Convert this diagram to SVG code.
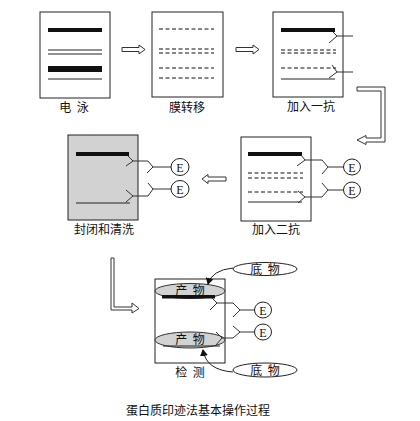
<svg xmlns="http://www.w3.org/2000/svg" width="420" height="421" viewBox="0 0 420 421">
<style>
.box{fill:#fff;stroke:#222;stroke-width:1}
.gray{fill:#d2d2d2;stroke:#222;stroke-width:1}
.thin{stroke:#222;stroke-width:1;fill:none}
.dash{stroke:#111;stroke-width:1.1;stroke-dasharray:4,2.5;fill:none}
.ab{stroke:#333;stroke-width:1;fill:none}
.lbl{font-family:"Noto Sans CJK SC","Noto Sans CJK JP",sans-serif;font-size:12px;fill:#111;text-anchor:middle;white-space:pre}
.e{fill:#fff;stroke:#222;stroke-width:1}
.et{font-family:"Liberation Serif",serif;font-size:12px;fill:#111;text-anchor:middle}
.harrow{fill:#fff;stroke:#333;stroke-width:1}
</style>
<defs>
<marker id="ah" markerWidth="8" markerHeight="8" refX="6" refY="4" orient="auto" markerUnits="userSpaceOnUse">
<path d="M0,0 L7,4 L0,8 Z" fill="#111"/>
</marker>
</defs>
<rect width="420" height="421" fill="#fff"/>

<g id="n1">
<rect class="box" x="40" y="12" width="70" height="86"/>
<rect x="48" y="28" width="54" height="4" fill="#111"/>
<line class="thin" x1="48" y1="50" x2="102" y2="50"/>
<line class="thin" x1="48" y1="54" x2="102" y2="54"/>
<rect x="48" y="66" width="54" height="6" fill="#111"/>
<line class="thin" x1="48" y1="79" x2="102" y2="79"/>
<text class="lbl" x="74" y="112" xml:space="preserve">电  泳</text>
</g>

<g id="n2">
<rect class="box" x="152" y="12" width="71" height="85"/>
<line class="dash" x1="159" y1="29" x2="214" y2="29"/>
<line class="dash" x1="159" y1="49" x2="214" y2="49"/>
<line class="dash" x1="159" y1="53" x2="214" y2="53"/>
<line class="dash" x1="159" y1="68" x2="214" y2="68"/>
<line class="dash" x1="159" y1="78" x2="214" y2="78"/>
<text class="lbl" x="187" y="112">膜转移</text>
</g>

<g id="n3">
<rect class="box" x="273" y="12" width="70" height="85"/>
<rect x="281" y="28" width="54" height="4" fill="#111"/>
<line class="dash" x1="281" y1="50" x2="336" y2="50"/>
<line class="dash" x1="281" y1="53" x2="336" y2="53"/>
<line class="dash" x1="281" y1="68" x2="336" y2="68"/>
<line class="thin" x1="281" y1="79" x2="335" y2="79"/>
<path class="ab" d="M333,32 L337,36 L329,43 M337,36 H353"/>
<path class="ab" d="M332,65 L337,72 L329,78 M337,72 H353"/>
<text class="lbl" x="311" y="111">加入一抗</text>
</g>

<g id="n4">
<rect class="box" x="241" y="137" width="70" height="84"/>
<rect x="248" y="152" width="54" height="4" fill="#111"/>
<line class="dash" x1="248" y1="173" x2="303" y2="173"/>
<line class="dash" x1="248" y1="178" x2="303" y2="178"/>
<line class="dash" x1="248" y1="192" x2="303" y2="192"/>
<line class="thin" x1="248" y1="202" x2="302" y2="202"/>
<path class="ab" d="M301,155 L305,160 L297,166 M305,160 H322 L328,167 L322,174 M328,167 H344"/>
<path class="ab" d="M298,191 L305,197 L298,203 M305,197 H322 L328,190 L322,183 M328,190 H344"/>
<ellipse class="e" cx="352" cy="167" rx="8.5" ry="8"/>
<text class="et" x="352" y="171.5">E</text>
<ellipse class="e" cx="352" cy="190" rx="8.5" ry="8"/>
<text class="et" x="352" y="194.5">E</text>
<text class="lbl" x="276" y="234">加入二抗</text>
</g>

<g id="n5">
<rect class="gray" x="68" y="135" width="70" height="85"/>
<rect x="76" y="152" width="53" height="4" fill="#111"/>
<line class="thin" x1="76" y1="203" x2="130" y2="203"/>
<path class="ab" d="M128,156 L133,161 L126,166 M133,161 H148 L153,167 L147,173 M153,167 H171"/>
<path class="ab" d="M126,190 L133,196 L126,202 M133,196 H148 L153,189 L148,183 M153,189 H171"/>
<ellipse class="e" cx="180" cy="167" rx="9" ry="8.5"/>
<text class="et" x="180" y="171.5">E</text>
<ellipse class="e" cx="180" cy="189" rx="9" ry="8.5"/>
<text class="et" x="180" y="193.5">E</text>
<text class="lbl" x="104" y="234">封闭和清洗</text>
</g>

<g id="n6">
<rect class="box" x="155" y="279" width="70" height="84"/>
<ellipse cx="190" cy="291" rx="35" ry="7.5" fill="#d2d2d2" stroke="#333" stroke-width="1"/>
<rect x="162" y="295" width="53" height="3.5" fill="#111"/>
<text class="lbl" x="190" y="295" xml:space="preserve">产  物</text>
<ellipse cx="190" cy="340" rx="35" ry="8" fill="#d2d2d2" stroke="#333" stroke-width="1"/>
<line class="thin" x1="163" y1="346" x2="220" y2="346"/>
<text class="lbl" x="190" y="344" xml:space="preserve">产  物</text>
<path class="ab" d="M212,298 L217,303 L210,310 M217,303 H233 L240,310 L233,317 M240,310 H255"/>
<path class="ab" d="M216,332 L222,338 L216,345 M222,338 H233 L240,332 L233,326 M240,332 H255"/>
<ellipse class="e" cx="263" cy="310" rx="8.5" ry="8"/>
<text class="et" x="263" y="314.5">E</text>
<ellipse class="e" cx="263" cy="332" rx="8.5" ry="8"/>
<text class="et" x="263" y="336.5">E</text>
<text class="lbl" x="190" y="377" xml:space="preserve">检  测</text>
</g>

<g id="s1">
<ellipse class="e" cx="265" cy="269" rx="32" ry="6.5"/>
<text class="lbl" x="265" y="273.5" xml:space="preserve">底  物</text>
</g>
<g id="s2">
<ellipse class="e" cx="265" cy="370" rx="32" ry="7"/>
<text class="lbl" x="265" y="374.5" xml:space="preserve">底  物</text>
</g>

<g id="connectors">
<path class="harrow" d="M122,47.5 H139 V45 L145,49.5 L139,54 V51.5 H122 Z"/>
<path class="harrow" d="M236,47.5 H253 V45 L259,49.5 L253,54 V51.5 H236 Z"/>
<path class="harrow" d="M357,87 H385 V142 H366 V144.5 L357,140 L366,135.5 V138 H381 V91 H357 Z"/>
<path class="harrow" d="M226,177 H208 V174.5 L202,179 L208,183.5 V181 H226 Z"/>
<path class="harrow" d="M111,258 H114 V307 H132 V303 L139,308.5 L132,313 V310 H111 Z"/>
<path class="thin" d="M233,268 Q212,270 208,284" marker-end="url(#ah)"/>
<path class="thin" d="M233,372 Q206,370 203,350" marker-end="url(#ah)"/>
</g>

<text class="lbl" x="198" y="415">蛋白质印迹法基本操作过程</text>
</svg>
